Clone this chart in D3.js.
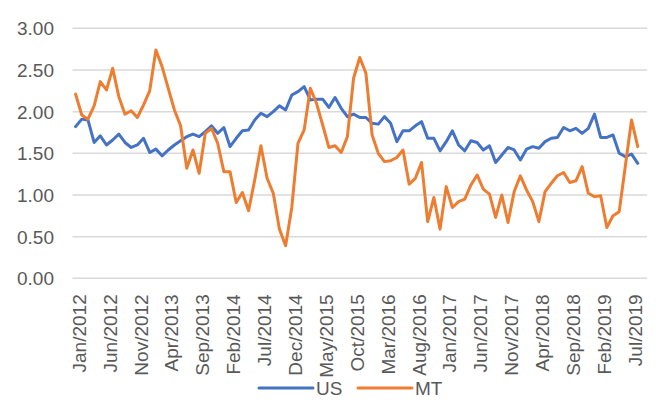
<!DOCTYPE html>
<html>
<head>
<meta charset="utf-8">
<script src="https://cdn.jsdelivr.net/npm/d3@7"></script>
<style>
  html, body { margin: 0; padding: 0; background: #fff; }
  svg { display: block; }
  text { font-family: "Liberation Sans", Arial, sans-serif; fill: #595959; }
</style>
</head>
<body>
<svg id="chart" width="656" height="405"></svg>
<script>
// ---- Data ----
const monthNames = ["Jan","Feb","Mar","Apr","May","Jun","Jul","Aug","Sep","Oct","Nov","Dec"];
const startYear = 2012;
const categoryCount = 93; // Jan/2012 .. Sep/2019 (last category empty)
const categories = d3.range(categoryCount).map(i =>
  monthNames[i % 12] + "/" + (startYear + Math.floor(i / 12)));

const usValues = [
  1.82,1.91,1.90,1.63,1.71,1.60,1.66,1.73,1.63,1.57,1.60,1.68,
  1.51,1.55,1.47,1.54,1.60,1.65,1.70,1.73,1.70,1.76,1.83,1.74,
  1.81,1.58,1.68,1.77,1.78,1.90,1.98,1.94,2.00,2.07,2.02,2.20,
  2.24,2.30,2.14,2.15,2.15,2.05,2.17,2.04,1.94,1.97,1.93,1.93,
  1.86,1.85,1.94,1.86,1.64,1.77,1.77,1.83,1.88,1.68,1.68,1.53,
  1.64,1.77,1.60,1.53,1.65,1.63,1.54,1.59,1.39,1.48,1.57,1.54,
  1.42,1.55,1.58,1.56,1.64,1.68,1.69,1.81,1.77,1.80,1.74,1.80,
  1.97,1.69,1.69,1.72,1.50,1.46,1.49,1.38
];
const mtValues = [
  2.21,1.96,1.91,2.07,2.36,2.26,2.52,2.18,1.97,2.01,1.93,2.08,
  2.25,2.74,2.54,2.28,2.02,1.83,1.32,1.54,1.26,1.74,1.80,1.62,
  1.28,1.28,0.91,1.03,0.81,1.18,1.59,1.20,1.02,0.59,0.39,0.85,
  1.62,1.78,2.28,2.10,1.84,1.57,1.59,1.51,1.70,2.40,2.65,2.46,
  1.72,1.50,1.40,1.41,1.45,1.54,1.13,1.20,1.39,0.68,0.97,0.59,
  1.10,0.85,0.92,0.95,1.12,1.24,1.07,1.01,0.73,1.00,0.67,1.04,
  1.23,1.06,0.92,0.68,1.04,1.14,1.23,1.27,1.15,1.17,1.34,1.02,
  0.98,0.99,0.61,0.75,0.80,1.35,1.90,1.58
];
const yTicks = [0, 0.5, 1, 1.5, 2, 2.5, 3];
const seriesNames = ["US", "MT"];
const seriesColors = ["#4472C4", "#ED7D31"];

// ---- Layout ----
const svg = d3.select("#chart");
const plot = { left: 72.5, right: 647, top: 28.3, bottom: 278.3 };

const x = d3.scaleBand().domain(categories).range([plot.left, plot.right]).paddingInner(0).paddingOuter(0);
const y = d3.scaleLinear().domain([0, 3]).range([plot.bottom, plot.top]);

// Gridlines
svg.append("g").selectAll("line").data(yTicks).join("line")
  .attr("x1", plot.left).attr("x2", plot.right)
  .attr("y1", d => y(d)).attr("y2", d => y(d))
  .attr("stroke", "#d9d9d9").attr("stroke-width", 1.5);

// Y axis (labels only)
const yAxis = d3.axisLeft(y).tickValues(yTicks).tickFormat(d3.format(".2f")).tickSize(0).tickPadding(0);
const yg = svg.append("g").attr("transform", `translate(54,0)`).call(yAxis);
yg.select(".domain").remove();
yg.selectAll("text").attr("font-size", 19).attr("fill", "#595959")
  .style("font-family", "'Liberation Sans', Arial, sans-serif").attr("dy", "0.35em");

// X axis labels (every 5th category, rotated)
const xAxis = d3.axisBottom(x)
  .tickValues(categories.filter((d, i) => i % 5 === 0 && i <= 90))
  .tickSize(0).tickPadding(0);
const xg = svg.append("g").attr("transform", `translate(0,${plot.bottom})`).call(xAxis);
xg.select(".domain").remove();
xg.selectAll("text")
  .attr("font-size", 19).attr("fill", "#595959")
  .style("font-family", "'Liberation Sans', Arial, sans-serif")
  .attr("text-anchor", "end")
  .attr("transform", "translate(3.5,16) rotate(-90)")
  .attr("dy", "0.35em").attr("x", 0).attr("y", 0);

// Lines
const cx = i => x(categories[i]) + x.bandwidth() / 2;
const line = d3.line().x((d, i) => cx(i)).y(d => y(d));
[usValues, mtValues].forEach((vals, k) => {
  svg.append("path").datum(vals)
    .attr("fill", "none")
    .attr("stroke", seriesColors[k])
    .attr("stroke-width", 3)
    .attr("stroke-linejoin", "round")
    .attr("stroke-linecap", "round")
    .attr("d", line);
});

// Legend
const legendItems = [
  { name: seriesNames[0], color: seriesColors[0], x: 259 },
  { name: seriesNames[1], color: seriesColors[1], x: 358 }
];
const lg = svg.append("g");
legendItems.forEach(it => {
  lg.append("line").attr("x1", it.x).attr("x2", it.x + 54)
    .attr("y1", 388).attr("y2", 388)
    .attr("stroke", it.color).attr("stroke-width", 3).attr("stroke-linecap", "round");
  lg.append("text").attr("x", it.x + 57).attr("y", 388).attr("dy", "0.35em")
    .attr("font-size", 19).text(it.name);
});
</script>
</body>
</html>
